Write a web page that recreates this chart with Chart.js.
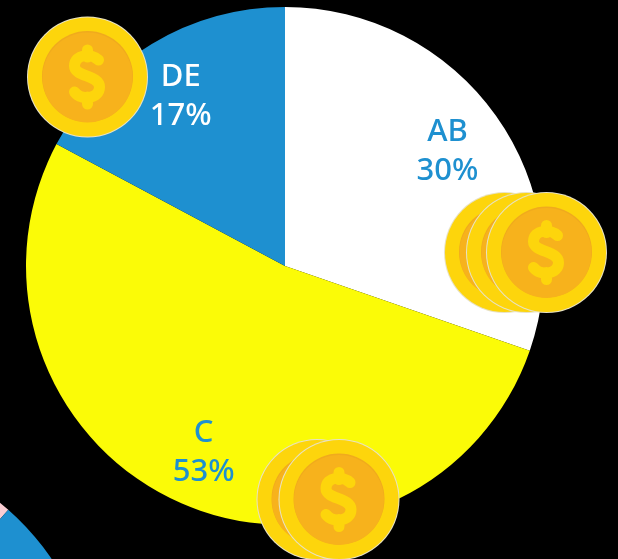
<!DOCTYPE html>
<html>
<head>
<meta charset="utf-8">
<title>Pie</title>
<script src="https://cdn.jsdelivr.net/npm/chart.js@4"></script>
<style>
  html, body { margin: 0; background: #000; }
  #wrap { position: relative; width: 618px; height: 559px; overflow: hidden; background: #000; }
  canvas { position: absolute; display: block; }
</style>
</head>
<body>
<div id="wrap">
  <canvas id="nextPie" width="618" height="559" style="left:-448px;top:438px"></canvas>
  <canvas id="mainPie" width="618" height="559" style="left:0;top:0"></canvas>
</div>
<script>
const categories = ['AB', 'C', 'DE'];
const shares = [30.3, 52.5, 17.2];
const sliceColors = ['#ffffff', '#fbfb07', '#1e90d0'];
const labelColors = ['#1e90d0', '#1e90d0', '#ffffff'];

// the next pie on the page, only its corner shows
const nextShares = [11.5, 88.5];
const nextColors = ['#f9cdd3', '#1e90d0'];

// coins, drawn back to front
const coins = [
    [504.5, 252.5], [526.5, 252.5], [546.5, 252.5],
    [87.5, 77],
    [317, 499.5], [339, 499.5]
];

function drawCoin(ctx, x, y) {
    ctx.save();
    ctx.translate(x, y);
    ctx.beginPath();
    ctx.arc(0, 0, 60.5, 0, Math.PI * 2);
    ctx.fillStyle = '#e8e2c4';
    ctx.fill();
    ctx.beginPath();
    ctx.arc(0, 0, 59.5, 0, Math.PI * 2);
    ctx.fillStyle = '#fdd50c';
    ctx.fill();
    ctx.beginPath();
    ctx.arc(0, -0.5, 45.5, 0, Math.PI * 2);
    ctx.fillStyle = '#f0aa1e';
    ctx.fill();
    ctx.beginPath();
    ctx.arc(0, 0.5, 45, 0, Math.PI * 2);
    ctx.fillStyle = '#f7b21c';
    ctx.fill();

    // dollar sign
    ctx.strokeStyle = '#fdd50c';
    ctx.lineWidth = 11;
    ctx.lineCap = 'round';
    ctx.beginPath();
    ctx.moveTo(11, -17);
    ctx.bezierCurveTo(4, -24, -13, -23, -13, -11);
    ctx.bezierCurveTo(-13, 0, 12, -2, 12, 10);
    ctx.bezierCurveTo(12, 22, -6, 24, -13, 15);
    ctx.moveTo(0, -27);
    ctx.lineTo(0, -20);
    ctx.moveTo(0, 20);
    ctx.lineTo(0, 27);
    ctx.stroke();
    ctx.restore();
}

const pieLabels = {
    id: 'pieLabels',
    afterDatasetsDraw(chart) {
        const ctx = chart.ctx;
        ctx.save();
        ctx.font = '500 31px "Noto Sans"';
        ctx.textAlign = 'center';
        ctx.textBaseline = 'middle';
        chart.getDatasetMeta(0).data.forEach((arc, i) => {
            const mid = (arc.startAngle + arc.endAngle) / 2;
            const x = arc.x + Math.cos(mid) * arc.outerRadius * 0.775 - 1;
            const y = arc.y + Math.sin(mid) * arc.outerRadius * 0.775;
            ctx.fillStyle = labelColors[i];
            ctx.fillText(categories[i], x, y - 17);
            ctx.fillText(Math.round(shares[i]) + '%', x, y + 22);
        });
        ctx.restore();
    }
};

const coinLayer = {
    id: 'coinLayer',
    afterDraw(chart) {
        coins.forEach(c => drawCoin(chart.ctx, c[0], c[1]));
    }
};

const pieLayout = { padding: { left: 26, right: 74, top: 7, bottom: 34 } };

new Chart(document.getElementById('nextPie').getContext('2d'), {
    type: 'pie',
    data: {
        labels: ['', ''],
        datasets: [{ data: nextShares, backgroundColor: nextColors, borderWidth: 0 }]
    },
    options: {
        responsive: false,
        animation: false,
        layout: pieLayout,
        plugins: { legend: { display: false }, tooltip: { enabled: false } }
    }
});

new Chart(document.getElementById('mainPie').getContext('2d'), {
    type: 'pie',
    data: {
        labels: categories,
        datasets: [{ data: shares, backgroundColor: sliceColors, borderWidth: 0 }]
    },
    options: {
        responsive: false,
        animation: false,
        layout: pieLayout,
        plugins: { legend: { display: false } }
    },
    plugins: [pieLabels, coinLayer]
});
</script>
</body>
</html>
